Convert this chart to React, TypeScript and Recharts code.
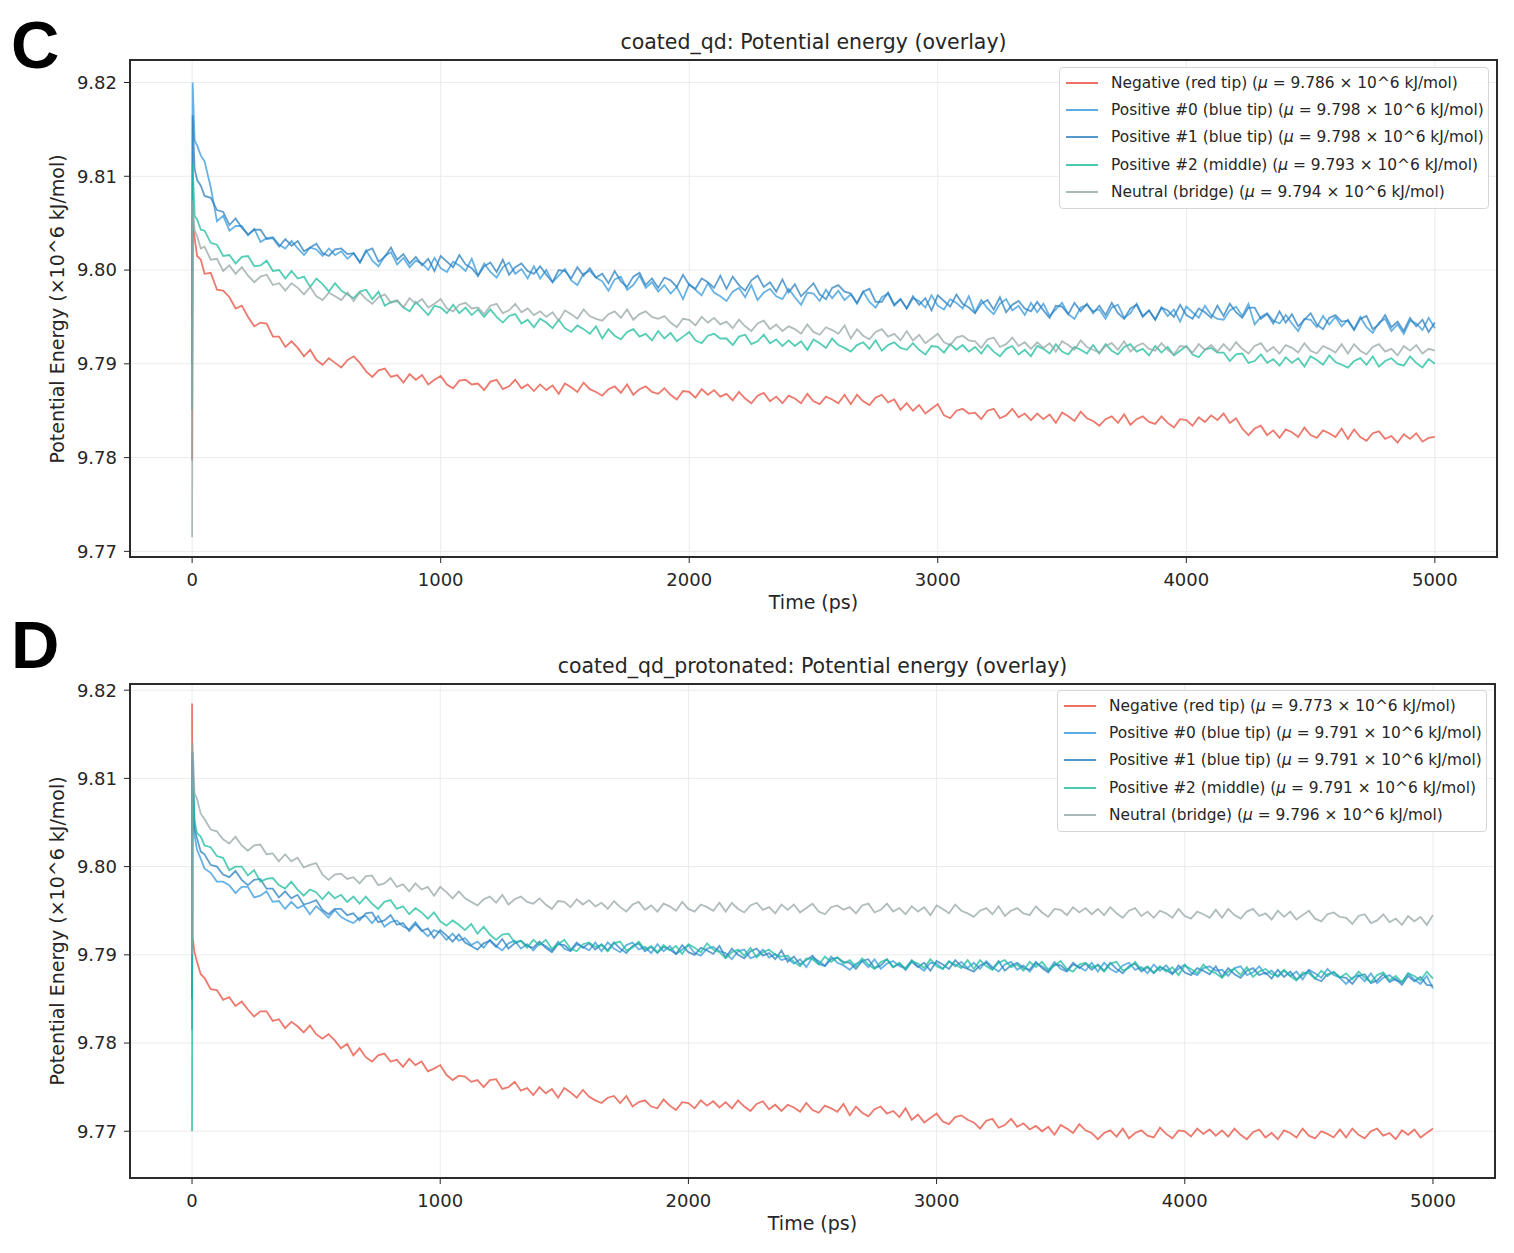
import { LineChart, Line, XAxis, YAxis, CartesianGrid } from "recharts"

const FONT = "'DejaVu Sans', Verdana, sans-serif"
const INK = "#262626"

// time axis shared by both runs (ps)
const TIME_PS = [
    0, 2, 10, 20, 35, 50, 75, 100, 125,
    150, 175, 200, 225, 250, 275, 300, 325, 350, 375, 400, 425, 450, 475, 500, 525, 550, 575, 600, 625,
    650, 675, 700, 725, 750, 775, 800, 825, 850, 875, 900, 925, 950, 975, 1000, 1025, 1050, 1075, 1100, 1125,
    1150, 1175, 1200, 1225, 1250, 1275, 1300, 1325, 1350, 1375, 1400, 1425, 1450, 1475, 1500, 1525, 1550, 1575, 1600, 1625,
    1650, 1675, 1700, 1725, 1750, 1775, 1800, 1825, 1850, 1875, 1900, 1925, 1950, 1975, 2000, 2025, 2050, 2075, 2100, 2125,
    2150, 2175, 2200, 2225, 2250, 2275, 2300, 2325, 2350, 2375, 2400, 2425, 2450, 2475, 2500, 2525, 2550, 2575, 2600, 2625,
    2650, 2675, 2700, 2725, 2750, 2775, 2800, 2825, 2850, 2875, 2900, 2925, 2950, 2975, 3000, 3025, 3050, 3075, 3100, 3125,
    3150, 3175, 3200, 3225, 3250, 3275, 3300, 3325, 3350, 3375, 3400, 3425, 3450, 3475, 3500, 3525, 3550, 3575, 3600, 3625,
    3650, 3675, 3700, 3725, 3750, 3775, 3800, 3825, 3850, 3875, 3900, 3925, 3950, 3975, 4000, 4025, 4050, 4075, 4100, 4125,
    4150, 4175, 4200, 4225, 4250, 4275, 4300, 4325, 4350, 4375, 4400, 4425, 4450, 4475, 4500, 4525, 4550, 4575, 4600, 4625,
    4650, 4675, 4700, 4725, 4750, 4775, 4800, 4825, 4850, 4875, 4900, 4925, 4950, 4975, 5000,
]

// ---- coated_qd (panel C), x10^6 kJ/mol ----
const NEG_C = [
    9.7797, 9.8052, 9.8034, 9.8015, 9.8011, 9.7996, 9.7997, 9.7979, 9.7978,
    9.7971, 9.7959, 9.7962, 9.7950, 9.7940, 9.7944, 9.7943, 9.7929, 9.7929, 9.7918, 9.7924, 9.7917, 9.7908, 9.7915, 9.7904, 9.7899, 9.7906, 9.7901, 9.7896, 9.7904,
    9.7908, 9.7901, 9.7892, 9.7886, 9.7893, 9.7895, 9.7886, 9.7888, 9.7880, 9.7889, 9.7883, 9.7888, 9.7878, 9.7883, 9.7887, 9.7878, 9.7874, 9.7882, 9.7883, 9.7878,
    9.7879, 9.7872, 9.7881, 9.7883, 9.7873, 9.7876, 9.7883, 9.7874, 9.7878, 9.7871, 9.7878, 9.7872, 9.7877, 9.7868, 9.7879, 9.7875, 9.7870, 9.7880, 9.7873, 9.7870,
    9.7866, 9.7873, 9.7876, 9.7869, 9.7878, 9.7867, 9.7873, 9.7876, 9.7870, 9.7868, 9.7874, 9.7867, 9.7862, 9.7871, 9.7870, 9.7864, 9.7873, 9.7867, 9.7872, 9.7865,
    9.7868, 9.7861, 9.7870, 9.7863, 9.7858, 9.7866, 9.7869, 9.7860, 9.7865, 9.7858, 9.7866, 9.7863, 9.7858, 9.7868, 9.7860, 9.7857, 9.7865, 9.7862, 9.7858, 9.7867,
    9.7857, 9.7867, 9.7860, 9.7856, 9.7864, 9.7867, 9.7859, 9.7862, 9.7851, 9.7858, 9.7850, 9.7856, 9.7847, 9.7852, 9.7857, 9.7845, 9.7842, 9.7850, 9.7852, 9.7847,
    9.7848, 9.7841, 9.7850, 9.7852, 9.7842, 9.7845, 9.7852, 9.7843, 9.7847, 9.7840, 9.7847, 9.7841, 9.7846, 9.7837, 9.7848, 9.7844, 9.7839, 9.7849, 9.7842, 9.7839,
    9.7834, 9.7841, 9.7844, 9.7837, 9.7846, 9.7835, 9.7841, 9.7844, 9.7838, 9.7836, 9.7844, 9.7837, 9.7832, 9.7841, 9.7840, 9.7834, 9.7843, 9.7838, 9.7845, 9.7840,
    9.7847, 9.7837, 9.7842, 9.7831, 9.7824, 9.7831, 9.7834, 9.7824, 9.7829, 9.7821, 9.7830, 9.7827, 9.7822, 9.7832, 9.7824, 9.7821, 9.7829, 9.7826, 9.7822, 9.7831,
    9.7820, 9.7830, 9.7822, 9.7818, 9.7826, 9.7828, 9.7820, 9.7823, 9.7816, 9.7825, 9.7820, 9.7826, 9.7817, 9.7821, 9.7822,
]
const POS0_C = [
    9.7950, 9.8200, 9.8138, 9.8133, 9.8122, 9.8116, 9.8088, 9.8052, 9.8058,
    9.8042, 9.8047, 9.8047, 9.8037, 9.8044, 9.8030, 9.8034, 9.8035, 9.8027, 9.8023, 9.8031, 9.8023, 9.8016, 9.8024, 9.8022, 9.8015, 9.8023, 9.8016, 9.8020, 9.8012,
    9.8018, 9.8008, 9.8021, 9.8010, 9.8004, 9.8015, 9.8019, 9.8006, 9.8013, 9.8003, 9.8010, 9.8007, 9.8000, 9.8013, 9.8002, 9.7998, 9.8009, 9.8005, 9.7999, 9.8012,
    9.7994, 9.8007, 9.7998, 9.7992, 9.8003, 9.8008, 9.7996, 9.8001, 9.7991, 9.8004, 9.7991, 9.8000, 9.7987, 9.7994, 9.8001, 9.7989, 9.7984, 9.7996, 9.7999, 9.7992,
    9.7988, 9.7978, 9.7990, 9.7993, 9.7979, 9.7984, 9.7994, 9.7981, 9.7987, 9.7977, 9.7984, 9.7975, 9.7982, 9.7969, 9.7985, 9.7979, 9.7973, 9.7986, 9.7976, 9.7972,
    9.7967, 9.7977, 9.7981, 9.7971, 9.7984, 9.7968, 9.7976, 9.7980, 9.7972, 9.7969, 9.7980, 9.7971, 9.7963, 9.7976, 9.7975, 9.7967, 9.7979, 9.7970, 9.7978, 9.7968,
    9.7974, 9.7964, 9.7977, 9.7966, 9.7960, 9.7971, 9.7975, 9.7962, 9.7969, 9.7959, 9.7970, 9.7967, 9.7960, 9.7973, 9.7962, 9.7958, 9.7969, 9.7965, 9.7959, 9.7972,
    9.7955, 9.7968, 9.7959, 9.7953, 9.7964, 9.7969, 9.7957, 9.7962, 9.7952, 9.7965, 9.7955, 9.7964, 9.7951, 9.7958, 9.7965, 9.7953, 9.7948, 9.7960, 9.7963, 9.7956,
    9.7958, 9.7948, 9.7960, 9.7963, 9.7949, 9.7954, 9.7964, 9.7951, 9.7957, 9.7947, 9.7960, 9.7951, 9.7958, 9.7945, 9.7961, 9.7955, 9.7949, 9.7962, 9.7952, 9.7948,
    9.7947, 9.7957, 9.7961, 9.7951, 9.7964, 9.7942, 9.7950, 9.7954, 9.7946, 9.7943, 9.7952, 9.7943, 9.7935, 9.7948, 9.7947, 9.7939, 9.7951, 9.7942, 9.7950, 9.7940,
    9.7947, 9.7937, 9.7950, 9.7939, 9.7933, 9.7944, 9.7948, 9.7935, 9.7942, 9.7932, 9.7946, 9.7943, 9.7936, 9.7949, 9.7938,
]
const POS1_C = [
    9.7900, 9.8165, 9.8108, 9.8096, 9.8090, 9.8079, 9.8077, 9.8064, 9.8062,
    9.8048, 9.8055, 9.8045, 9.8038, 9.8043, 9.8043, 9.8033, 9.8034, 9.8025, 9.8033, 9.8026, 9.8031, 9.8020, 9.8024, 9.8028, 9.8018, 9.8015, 9.8022, 9.8023, 9.8017,
    9.8018, 9.8008, 9.8020, 9.8023, 9.8009, 9.8014, 9.8024, 9.8011, 9.8017, 9.8007, 9.8014, 9.8005, 9.8012, 9.7999, 9.8015, 9.8009, 9.8003, 9.8016, 9.8006, 9.8002,
    9.7994, 9.8004, 9.8008, 9.7998, 9.8011, 9.7995, 9.8003, 9.8007, 9.7999, 9.7996, 9.8004, 9.7995, 9.7987, 9.8000, 9.7999, 9.7991, 9.8003, 9.7994, 9.8002, 9.7992,
    9.7996, 9.7986, 9.7999, 9.7988, 9.7982, 9.7993, 9.7997, 9.7984, 9.7991, 9.7981, 9.7992, 9.7989, 9.7982, 9.7995, 9.7984, 9.7980, 9.7991, 9.7987, 9.7981, 9.7994,
    9.7980, 9.7993, 9.7984, 9.7978, 9.7989, 9.7994, 9.7982, 9.7987, 9.7977, 9.7990, 9.7976, 9.7985, 9.7972, 9.7979, 9.7986, 9.7974, 9.7969, 9.7981, 9.7984, 9.7977,
    9.7975, 9.7965, 9.7977, 9.7980, 9.7966, 9.7966, 9.7976, 9.7963, 9.7969, 9.7959, 9.7972, 9.7963, 9.7970, 9.7957, 9.7973, 9.7967, 9.7961, 9.7974, 9.7964, 9.7960,
    9.7954, 9.7964, 9.7968, 9.7958, 9.7971, 9.7955, 9.7963, 9.7967, 9.7959, 9.7956, 9.7966, 9.7957, 9.7949, 9.7962, 9.7961, 9.7953, 9.7965, 9.7956, 9.7964, 9.7954,
    9.7962, 9.7952, 9.7965, 9.7954, 9.7948, 9.7959, 9.7963, 9.7950, 9.7957, 9.7947, 9.7960, 9.7957, 9.7950, 9.7963, 9.7952, 9.7948, 9.7959, 9.7955, 9.7949, 9.7962,
    9.7951, 9.7964, 9.7955, 9.7949, 9.7960, 9.7960, 9.7948, 9.7953, 9.7943, 9.7956, 9.7944, 9.7953, 9.7940, 9.7947, 9.7954, 9.7942, 9.7937, 9.7949, 9.7952, 9.7945,
    9.7946, 9.7936, 9.7948, 9.7951, 9.7937, 9.7942, 9.7952, 9.7939, 9.7945, 9.7935, 9.7949, 9.7940, 9.7947, 9.7934, 9.7944,
]
const POS2_C = [
    9.7850, 9.8113, 9.8058, 9.8054, 9.8043, 9.8042, 9.8029, 9.8027, 9.8015,
    9.8016, 9.8007, 9.8014, 9.8015, 9.8004, 9.8005, 9.8010, 9.7999, 9.8000, 9.7991, 9.7999, 9.7991, 9.7993, 9.7982, 9.7991, 9.7985, 9.7977, 9.7986, 9.7978, 9.7974,
    9.7970, 9.7977, 9.7979, 9.7969, 9.7977, 9.7962, 9.7966, 9.7967, 9.7960, 9.7956, 9.7966, 9.7959, 9.7952, 9.7962, 9.7960, 9.7954, 9.7963, 9.7954, 9.7960, 9.7952,
    9.7958, 9.7950, 9.7958, 9.7950, 9.7944, 9.7951, 9.7953, 9.7943, 9.7947, 9.7939, 9.7948, 9.7944, 9.7938, 9.7947, 9.7938, 9.7934, 9.7941, 9.7937, 9.7932, 9.7940,
    9.7927, 9.7937, 9.7930, 9.7926, 9.7934, 9.7937, 9.7929, 9.7932, 9.7925, 9.7935, 9.7927, 9.7933, 9.7924, 9.7929, 9.7934, 9.7925, 9.7922, 9.7930, 9.7932, 9.7927,
    9.7927, 9.7920, 9.7929, 9.7931, 9.7921, 9.7924, 9.7931, 9.7922, 9.7926, 9.7919, 9.7925, 9.7919, 9.7924, 9.7915, 9.7926, 9.7922, 9.7917, 9.7927, 9.7920, 9.7917,
    9.7913, 9.7920, 9.7923, 9.7916, 9.7925, 9.7914, 9.7920, 9.7923, 9.7917, 9.7915, 9.7922, 9.7915, 9.7910, 9.7919, 9.7918, 9.7912, 9.7921, 9.7915, 9.7920, 9.7913,
    9.7918, 9.7911, 9.7920, 9.7913, 9.7908, 9.7916, 9.7919, 9.7910, 9.7915, 9.7908, 9.7919, 9.7916, 9.7911, 9.7921, 9.7913, 9.7910, 9.7918, 9.7915, 9.7911, 9.7920,
    9.7911, 9.7921, 9.7914, 9.7910, 9.7918, 9.7921, 9.7913, 9.7916, 9.7909, 9.7919, 9.7912, 9.7918, 9.7909, 9.7914, 9.7919, 9.7910, 9.7907, 9.7915, 9.7917, 9.7912,
    9.7912, 9.7903, 9.7910, 9.7911, 9.7901, 9.7903, 9.7910, 9.7901, 9.7905, 9.7898, 9.7907, 9.7901, 9.7906, 9.7897, 9.7908, 9.7904, 9.7899, 9.7909, 9.7902, 9.7899,
    9.7896, 9.7903, 9.7906, 9.7899, 9.7908, 9.7897, 9.7903, 9.7906, 9.7900, 9.7898, 9.7908, 9.7901, 9.7896, 9.7905, 9.7900,
]
const NEU_C = [
    9.7715, 9.8074, 9.8042, 9.8036, 9.8023, 9.8025, 9.8011, 9.8012, 9.7999,
    9.8005, 9.7996, 9.8003, 9.7994, 9.7987, 9.7993, 9.7995, 9.7984, 9.7986, 9.7978, 9.7986, 9.7981, 9.7974, 9.7982, 9.7972, 9.7968, 9.7976, 9.7972, 9.7968, 9.7976,
    9.7967, 9.7976, 9.7969, 9.7964, 9.7971, 9.7974, 9.7965, 9.7968, 9.7960, 9.7970, 9.7964, 9.7969, 9.7960, 9.7964, 9.7969, 9.7959, 9.7956, 9.7963, 9.7965, 9.7959,
    9.7960, 9.7953, 9.7962, 9.7964, 9.7954, 9.7957, 9.7964, 9.7955, 9.7959, 9.7952, 9.7956, 9.7950, 9.7955, 9.7946, 9.7957, 9.7953, 9.7948, 9.7958, 9.7951, 9.7948,
    9.7946, 9.7953, 9.7956, 9.7949, 9.7958, 9.7947, 9.7953, 9.7956, 9.7950, 9.7948, 9.7951, 9.7944, 9.7939, 9.7948, 9.7947, 9.7941, 9.7950, 9.7944, 9.7949, 9.7942,
    9.7945, 9.7938, 9.7947, 9.7940, 9.7935, 9.7943, 9.7946, 9.7937, 9.7942, 9.7935, 9.7940, 9.7937, 9.7932, 9.7942, 9.7934, 9.7931, 9.7939, 9.7936, 9.7932, 9.7941,
    9.7927, 9.7937, 9.7930, 9.7926, 9.7934, 9.7937, 9.7929, 9.7932, 9.7925, 9.7935, 9.7925, 9.7931, 9.7922, 9.7927, 9.7932, 9.7923, 9.7920, 9.7928, 9.7930, 9.7925,
    9.7924, 9.7917, 9.7926, 9.7928, 9.7918, 9.7921, 9.7928, 9.7919, 9.7923, 9.7916, 9.7923, 9.7917, 9.7922, 9.7913, 9.7924, 9.7920, 9.7915, 9.7925, 9.7918, 9.7915,
    9.7912, 9.7919, 9.7922, 9.7915, 9.7924, 9.7913, 9.7919, 9.7922, 9.7916, 9.7914, 9.7922, 9.7915, 9.7910, 9.7919, 9.7918, 9.7912, 9.7921, 9.7915, 9.7920, 9.7913,
    9.7921, 9.7914, 9.7923, 9.7916, 9.7911, 9.7919, 9.7922, 9.7913, 9.7918, 9.7911, 9.7920, 9.7917, 9.7912, 9.7922, 9.7914, 9.7911, 9.7919, 9.7916, 9.7912, 9.7921,
    9.7911, 9.7921, 9.7914, 9.7910, 9.7918, 9.7921, 9.7913, 9.7916, 9.7909, 9.7919, 9.7914, 9.7920, 9.7911, 9.7916, 9.7914,
]

// ---- coated_qd_protonated (panel D) ----
const NEG_D = [
    9.8185, 9.7920, 9.7903, 9.7892, 9.7878, 9.7874, 9.7861, 9.7860, 9.7849,
    9.7852, 9.7842, 9.7847, 9.7838, 9.7830, 9.7836, 9.7836, 9.7825, 9.7827, 9.7817, 9.7824, 9.7819, 9.7812, 9.7820, 9.7810, 9.7805, 9.7810, 9.7803, 9.7794, 9.7799,
    9.7786, 9.7794, 9.7784, 9.7779, 9.7786, 9.7788, 9.7779, 9.7781, 9.7773, 9.7782, 9.7775, 9.7779, 9.7768, 9.7771, 9.7775, 9.7764, 9.7758, 9.7763, 9.7762, 9.7756,
    9.7758, 9.7750, 9.7758, 9.7759, 9.7748, 9.7750, 9.7756, 9.7746, 9.7749, 9.7741, 9.7750, 9.7743, 9.7748, 9.7738, 9.7749, 9.7744, 9.7738, 9.7747, 9.7739, 9.7735,
    9.7732, 9.7738, 9.7740, 9.7732, 9.7740, 9.7728, 9.7733, 9.7735, 9.7728, 9.7726, 9.7736, 9.7729, 9.7724, 9.7733, 9.7732, 9.7726, 9.7735, 9.7729, 9.7734, 9.7727,
    9.7733, 9.7726, 9.7735, 9.7728, 9.7723, 9.7731, 9.7734, 9.7725, 9.7730, 9.7723, 9.7730, 9.7727, 9.7722, 9.7732, 9.7724, 9.7721, 9.7729, 9.7726, 9.7722, 9.7731,
    9.7718, 9.7728, 9.7721, 9.7717, 9.7725, 9.7728, 9.7720, 9.7723, 9.7716, 9.7726, 9.7713, 9.7719, 9.7710, 9.7715, 9.7720, 9.7711, 9.7708, 9.7716, 9.7718, 9.7713,
    9.7710, 9.7703, 9.7712, 9.7714, 9.7704, 9.7707, 9.7714, 9.7705, 9.7709, 9.7702, 9.7706, 9.7700, 9.7705, 9.7696, 9.7707, 9.7703, 9.7698, 9.7708, 9.7701, 9.7698,
    9.7691, 9.7698, 9.7701, 9.7694, 9.7703, 9.7692, 9.7698, 9.7701, 9.7695, 9.7693, 9.7704, 9.7697, 9.7692, 9.7701, 9.7700, 9.7694, 9.7703, 9.7697, 9.7702, 9.7695,
    9.7701, 9.7694, 9.7703, 9.7696, 9.7691, 9.7699, 9.7702, 9.7693, 9.7698, 9.7691, 9.7701, 9.7698, 9.7693, 9.7703, 9.7695, 9.7692, 9.7700, 9.7697, 9.7693, 9.7702,
    9.7693, 9.7703, 9.7696, 9.7692, 9.7700, 9.7703, 9.7695, 9.7698, 9.7691, 9.7701, 9.7696, 9.7702, 9.7693, 9.7698, 9.7703,
]
const POS0_D = [
    9.7815, 9.8120, 9.8036, 9.8019, 9.8009, 9.7998, 9.7993, 9.7983, 9.7983,
    9.7979, 9.7970, 9.7977, 9.7977, 9.7965, 9.7967, 9.7972, 9.7960, 9.7961, 9.7952, 9.7960, 9.7953, 9.7956, 9.7946, 9.7955, 9.7949, 9.7942, 9.7951, 9.7943, 9.7939,
    9.7936, 9.7942, 9.7944, 9.7936, 9.7944, 9.7932, 9.7937, 9.7939, 9.7932, 9.7929, 9.7937, 9.7928, 9.7921, 9.7928, 9.7925, 9.7917, 9.7924, 9.7916, 9.7919, 9.7911,
    9.7915, 9.7908, 9.7917, 9.7910, 9.7905, 9.7913, 9.7916, 9.7907, 9.7912, 9.7905, 9.7913, 9.7910, 9.7905, 9.7915, 9.7907, 9.7904, 9.7912, 9.7909, 9.7905, 9.7914,
    9.7904, 9.7914, 9.7907, 9.7903, 9.7911, 9.7914, 9.7906, 9.7909, 9.7902, 9.7912, 9.7904, 9.7910, 9.7901, 9.7906, 9.7911, 9.7902, 9.7899, 9.7907, 9.7909, 9.7904,
    9.7902, 9.7895, 9.7904, 9.7906, 9.7896, 9.7899, 9.7906, 9.7897, 9.7901, 9.7894, 9.7896, 9.7890, 9.7895, 9.7886, 9.7897, 9.7893, 9.7888, 9.7898, 9.7891, 9.7888,
    9.7883, 9.7890, 9.7893, 9.7886, 9.7895, 9.7884, 9.7890, 9.7893, 9.7887, 9.7885, 9.7894, 9.7887, 9.7882, 9.7891, 9.7890, 9.7884, 9.7893, 9.7887, 9.7892, 9.7885,
    9.7891, 9.7884, 9.7893, 9.7886, 9.7881, 9.7889, 9.7892, 9.7883, 9.7888, 9.7881, 9.7890, 9.7887, 9.7882, 9.7892, 9.7884, 9.7881, 9.7889, 9.7886, 9.7882, 9.7891,
    9.7881, 9.7891, 9.7884, 9.7880, 9.7888, 9.7891, 9.7883, 9.7886, 9.7879, 9.7889, 9.7882, 9.7888, 9.7879, 9.7884, 9.7889, 9.7880, 9.7877, 9.7885, 9.7887, 9.7882,
    9.7883, 9.7876, 9.7885, 9.7887, 9.7877, 9.7880, 9.7887, 9.7878, 9.7882, 9.7875, 9.7882, 9.7876, 9.7881, 9.7872, 9.7883, 9.7879, 9.7874, 9.7884, 9.7877, 9.7874,
    9.7867, 9.7874, 9.7877, 9.7870, 9.7879, 9.7868, 9.7874, 9.7877, 9.7871, 9.7869, 9.7879, 9.7872, 9.7867, 9.7876, 9.7862,
]
const POS1_D = [
    9.7850, 9.8130, 9.8043, 9.8032, 9.8017, 9.8014, 9.8002, 9.8000, 9.7991,
    9.7988, 9.7995, 9.7985, 9.7979, 9.7985, 9.7986, 9.7975, 9.7975, 9.7965, 9.7972, 9.7964, 9.7968, 9.7957, 9.7959, 9.7962, 9.7951, 9.7946, 9.7952, 9.7952, 9.7945,
    9.7947, 9.7939, 9.7947, 9.7948, 9.7937, 9.7939, 9.7945, 9.7934, 9.7936, 9.7927, 9.7935, 9.7927, 9.7930, 9.7919, 9.7928, 9.7922, 9.7915, 9.7923, 9.7914, 9.7910,
    9.7906, 9.7913, 9.7916, 9.7909, 9.7918, 9.7907, 9.7913, 9.7916, 9.7910, 9.7908, 9.7915, 9.7908, 9.7903, 9.7912, 9.7911, 9.7905, 9.7914, 9.7908, 9.7913, 9.7906,
    9.7912, 9.7905, 9.7914, 9.7907, 9.7902, 9.7910, 9.7913, 9.7904, 9.7909, 9.7902, 9.7909, 9.7906, 9.7901, 9.7911, 9.7903, 9.7900, 9.7908, 9.7905, 9.7901, 9.7910,
    9.7897, 9.7907, 9.7900, 9.7896, 9.7904, 9.7907, 9.7899, 9.7902, 9.7895, 9.7905, 9.7892, 9.7898, 9.7889, 9.7894, 9.7899, 9.7890, 9.7887, 9.7895, 9.7897, 9.7892,
    9.7891, 9.7884, 9.7893, 9.7895, 9.7885, 9.7888, 9.7895, 9.7886, 9.7890, 9.7883, 9.7892, 9.7886, 9.7891, 9.7882, 9.7893, 9.7889, 9.7884, 9.7894, 9.7887, 9.7884,
    9.7881, 9.7888, 9.7891, 9.7884, 9.7893, 9.7882, 9.7888, 9.7891, 9.7885, 9.7883, 9.7892, 9.7885, 9.7880, 9.7889, 9.7888, 9.7882, 9.7891, 9.7885, 9.7890, 9.7883,
    9.7889, 9.7882, 9.7891, 9.7884, 9.7879, 9.7887, 9.7890, 9.7881, 9.7886, 9.7879, 9.7886, 9.7883, 9.7878, 9.7888, 9.7880, 9.7877, 9.7885, 9.7882, 9.7878, 9.7887,
    9.7875, 9.7885, 9.7878, 9.7874, 9.7882, 9.7885, 9.7877, 9.7880, 9.7873, 9.7883, 9.7875, 9.7881, 9.7872, 9.7877, 9.7882, 9.7873, 9.7870, 9.7878, 9.7880, 9.7875,
    9.7874, 9.7867, 9.7876, 9.7878, 9.7868, 9.7871, 9.7878, 9.7869, 9.7873, 9.7866, 9.7876, 9.7870, 9.7875, 9.7866, 9.7865,
]
const POS2_D = [
    9.7700, 9.8100, 9.8052, 9.8038, 9.8034, 9.8024, 9.8022, 9.8012, 9.8010,
    9.7996, 9.8000, 9.8000, 9.7990, 9.7996, 9.7983, 9.7986, 9.7987, 9.7979, 9.7975, 9.7983, 9.7974, 9.7967, 9.7974, 9.7971, 9.7963, 9.7971, 9.7964, 9.7968, 9.7960,
    9.7966, 9.7958, 9.7966, 9.7958, 9.7952, 9.7960, 9.7962, 9.7952, 9.7955, 9.7946, 9.7953, 9.7948, 9.7941, 9.7948, 9.7938, 9.7933, 9.7939, 9.7934, 9.7928, 9.7935,
    9.7924, 9.7932, 9.7923, 9.7917, 9.7923, 9.7924, 9.7914, 9.7916, 9.7908, 9.7917, 9.7911, 9.7917, 9.7907, 9.7912, 9.7917, 9.7907, 9.7904, 9.7912, 9.7914, 9.7909,
    9.7911, 9.7904, 9.7913, 9.7915, 9.7905, 9.7908, 9.7915, 9.7906, 9.7910, 9.7903, 9.7911, 9.7905, 9.7910, 9.7901, 9.7912, 9.7908, 9.7903, 9.7913, 9.7906, 9.7903,
    9.7896, 9.7903, 9.7906, 9.7899, 9.7908, 9.7897, 9.7903, 9.7906, 9.7900, 9.7898, 9.7899, 9.7892, 9.7887, 9.7896, 9.7895, 9.7889, 9.7898, 9.7892, 9.7897, 9.7890,
    9.7894, 9.7887, 9.7896, 9.7889, 9.7884, 9.7892, 9.7895, 9.7886, 9.7891, 9.7884, 9.7893, 9.7890, 9.7885, 9.7895, 9.7887, 9.7884, 9.7892, 9.7889, 9.7885, 9.7894,
    9.7884, 9.7894, 9.7887, 9.7883, 9.7891, 9.7894, 9.7886, 9.7889, 9.7882, 9.7892, 9.7886, 9.7892, 9.7883, 9.7888, 9.7893, 9.7884, 9.7881, 9.7889, 9.7891, 9.7886,
    9.7888, 9.7881, 9.7890, 9.7892, 9.7882, 9.7885, 9.7892, 9.7883, 9.7887, 9.7880, 9.7887, 9.7881, 9.7886, 9.7877, 9.7888, 9.7884, 9.7879, 9.7889, 9.7882, 9.7879,
    9.7874, 9.7881, 9.7884, 9.7877, 9.7886, 9.7875, 9.7881, 9.7884, 9.7878, 9.7876, 9.7883, 9.7876, 9.7871, 9.7880, 9.7879, 9.7873, 9.7882, 9.7876, 9.7881, 9.7874,
    9.7879, 9.7872, 9.7881, 9.7874, 9.7869, 9.7877, 9.7880, 9.7871, 9.7876, 9.7869, 9.7879, 9.7876, 9.7871, 9.7881, 9.7873,
]
const NEU_D = [
    9.7900, 9.8140, 9.8083, 9.8077, 9.8060, 9.8054, 9.8042, 9.8040, 9.8031,
    9.8026, 9.8034, 9.8024, 9.8018, 9.8024, 9.8025, 9.8014, 9.8015, 9.8006, 9.8014, 9.8006, 9.8010, 9.7999, 9.8002, 9.8004, 9.7991, 9.7985, 9.7991, 9.7992, 9.7986,
    9.7988, 9.7981, 9.7989, 9.7990, 9.7979, 9.7981, 9.7987, 9.7977, 9.7980, 9.7972, 9.7981, 9.7974, 9.7977, 9.7967, 9.7977, 9.7971, 9.7964, 9.7972, 9.7964, 9.7960,
    9.7956, 9.7963, 9.7966, 9.7959, 9.7968, 9.7957, 9.7963, 9.7966, 9.7960, 9.7958, 9.7964, 9.7957, 9.7952, 9.7961, 9.7960, 9.7954, 9.7963, 9.7957, 9.7962, 9.7955,
    9.7959, 9.7952, 9.7961, 9.7954, 9.7949, 9.7957, 9.7960, 9.7951, 9.7956, 9.7949, 9.7958, 9.7955, 9.7950, 9.7960, 9.7952, 9.7949, 9.7957, 9.7954, 9.7950, 9.7959,
    9.7949, 9.7959, 9.7952, 9.7948, 9.7956, 9.7959, 9.7951, 9.7954, 9.7947, 9.7957, 9.7951, 9.7957, 9.7948, 9.7953, 9.7958, 9.7949, 9.7946, 9.7954, 9.7956, 9.7951,
    9.7954, 9.7947, 9.7956, 9.7958, 9.7948, 9.7951, 9.7958, 9.7949, 9.7953, 9.7946, 9.7955, 9.7949, 9.7954, 9.7945, 9.7956, 9.7952, 9.7947, 9.7957, 9.7950, 9.7947,
    9.7943, 9.7950, 9.7953, 9.7946, 9.7955, 9.7944, 9.7950, 9.7953, 9.7947, 9.7945, 9.7955, 9.7948, 9.7943, 9.7952, 9.7951, 9.7945, 9.7954, 9.7948, 9.7953, 9.7946,
    9.7952, 9.7945, 9.7954, 9.7947, 9.7942, 9.7950, 9.7953, 9.7944, 9.7949, 9.7942, 9.7950, 9.7947, 9.7942, 9.7952, 9.7944, 9.7941, 9.7949, 9.7946, 9.7942, 9.7951,
    9.7942, 9.7952, 9.7945, 9.7941, 9.7949, 9.7952, 9.7944, 9.7947, 9.7940, 9.7950, 9.7943, 9.7949, 9.7940, 9.7945, 9.7950, 9.7941, 9.7938, 9.7946, 9.7948, 9.7943,
    9.7942, 9.7935, 9.7944, 9.7946, 9.7936, 9.7939, 9.7946, 9.7937, 9.7941, 9.7934, 9.7944, 9.7938, 9.7943, 9.7934, 9.7945,
]

const X_TICKS = [0, 1000, 2000, 3000, 4000, 5000]
const Y_TICKS = [9.77, 9.78, 9.79, 9.8, 9.81, 9.82]

const SERIES = [
    { key: "neg", name: "Negative (red tip)", color: "#e74c3c" },
    { key: "pos0", name: "Positive #0 (blue tip)", color: "#3498db" },
    { key: "pos1", name: "Positive #1 (blue tip)", color: "#2a7fbf" },
    { key: "pos2", name: "Positive #2 (middle)", color: "#1abc9c" },
    { key: "neu", name: "Neutral (bridge)", color: "#95a5a6" },
]
const MEANS_C = ["9.786", "9.798", "9.798", "9.793", "9.794"]
const MEANS_D = ["9.773", "9.791", "9.791", "9.791", "9.796"]

const rowsC = TIME_PS.map((t, i) => ({
    t, neg: NEG_C[i], pos0: POS0_C[i], pos1: POS1_C[i], pos2: POS2_C[i], neu: NEU_C[i],
}))
const rowsD = TIME_PS.map((t, i) => ({
    t, neg: NEG_D[i], pos0: POS0_D[i], pos1: POS1_D[i], pos2: POS2_D[i], neu: NEU_D[i],
}))

const W = 1514
const PLOT_LEFT = 130
const Y_AXIS_W = 60
const X_AXIS_H = 30

type PanelProps = {
    letter: string
    letterTop: number
    title: string
    top: number
    height: number
    plotTop: number
    plotBottom: number
    plotRight: number
    yDomain: [number, number]
    rows: any[]
    means: string[]
    legendLeft: number
    legendTop: number
}

function Panel(p: PanelProps) {
    const plotW = p.plotRight - PLOT_LEFT
    const plotH = p.plotBottom - p.plotTop
    const cx = PLOT_LEFT + plotW / 2
    const text = { position: "absolute" as const, fontFamily: FONT, color: INK, whiteSpace: "nowrap" as const }

    return (
        <div style={{ position: "absolute", left: 0, top: p.top, width: W, height: p.height }}>
            <div style={{ ...text, left: 11, top: p.letterTop, fontSize: 67, fontWeight: 700, lineHeight: "67px", color: "#000", fontFamily: "'Liberation Sans', Arial, sans-serif" }}>
                {p.letter}
            </div>
            <div style={{ ...text, left: cx, top: p.plotTop - 18, fontSize: 20.5, transform: "translate(-50%, -50%)" }}>
                {p.title}
            </div>

            <LineChart
                width={W}
                height={p.height}
                data={p.rows}
                margin={{ top: p.plotTop, right: W - p.plotRight, left: PLOT_LEFT - Y_AXIS_W, bottom: p.height - p.plotBottom - X_AXIS_H }}
            >
                <CartesianGrid stroke="#ebebeb" strokeWidth={1} />
                <XAxis
                    dataKey="t"
                    type="number"
                    domain={[-250, 5250]}
                    ticks={X_TICKS}
                    height={X_AXIS_H}
                    axisLine={false}
                    tickLine={{ stroke: INK }}
                    tickSize={6}
                    tickMargin={10}
                    tick={{ fill: INK, fontSize: 18, fontFamily: FONT }}
                    allowDataOverflow
                />
                <YAxis
                    type="number"
                    domain={p.yDomain}
                    ticks={Y_TICKS}
                    width={Y_AXIS_W}
                    axisLine={false}
                    tickLine={{ stroke: INK }}
                    tickSize={6}
                    tickMargin={7}
                    tick={{ fill: INK, fontSize: 18, fontFamily: FONT }}
                    tickFormatter={(v: number) => v.toFixed(2)}
                    allowDataOverflow
                />
                {SERIES.map((s) => (
                    <Line
                        key={s.key}
                        type="linear"
                        dataKey={s.key}
                        stroke={s.color}
                        strokeOpacity={0.75}
                        strokeWidth={1.8}
                        dot={false}
                        isAnimationActive={false}
                    />
                ))}
            </LineChart>

            {/* axes frame */}
            <div style={{ position: "absolute", left: PLOT_LEFT - 1, top: p.plotTop - 1, width: plotW + 2, height: plotH + 2, border: "2px solid #2b2b2b", boxSizing: "border-box", pointerEvents: "none" }} />

            <div style={{ ...text, left: cx, top: p.plotBottom + 45, fontSize: 19, transform: "translate(-50%, -50%)" }}>
                Time (ps)
            </div>
            <div style={{ ...text, left: 57, top: p.plotTop + plotH / 2, fontSize: 19, transform: "translate(-50%, -50%) rotate(-90deg)" }}>
                Potential Energy (×10^6 kJ/mol)
            </div>

            <div
                style={{
                    position: "absolute",
                    left: p.legendLeft,
                    top: p.legendTop,
                    width: 430,
                    height: 142,
                    boxSizing: "border-box",
                    border: "1px solid #d6d6d6",
                    borderRadius: 4,
                    background: "rgba(255,255,255,0.85)",
                    padding: "1px 0 0 6px",
                    fontFamily: FONT,
                    fontSize: 15.4,
                    color: INK,
                }}
            >
                {SERIES.map((s, i) => (
                    <div key={s.key} style={{ display: "flex", alignItems: "center", height: 27.4, whiteSpace: "nowrap" }}>
                        <span style={{ display: "inline-block", width: 32, height: 2, background: s.color, opacity: 0.8, marginRight: 13 }} />
                        <span>
                            {s.name} (<i>μ</i> = {p.means[i]} × 10^6 kJ/mol)
                        </span>
                    </div>
                ))}
            </div>
        </div>
    )
}

export default function App() {
    return (
        <div style={{ position: "absolute", left: 0, top: 0, width: W, height: 1253, background: "#fff" }}>
            <Panel
                letter="C"
                letterTop={11}
                title="coated_qd: Potential energy (overlay)"
                top={0}
                height={620}
                plotTop={60}
                plotBottom={557}
                plotRight={1497}
                yDomain={[9.7694, 9.8224]}
                rows={rowsC}
                means={MEANS_C}
                legendLeft={1059}
                legendTop={67}
            />
            <Panel
                letter="D"
                letterTop={-9}
                title="coated_qd_protonated: Potential energy (overlay)"
                top={620}
                height={633}
                plotTop={64}
                plotBottom={558}
                plotRight={1495}
                yDomain={[9.7647, 9.8207]}
                rows={rowsD}
                means={MEANS_D}
                legendLeft={1057}
                legendTop={70}
            />
        </div>
    )
}
